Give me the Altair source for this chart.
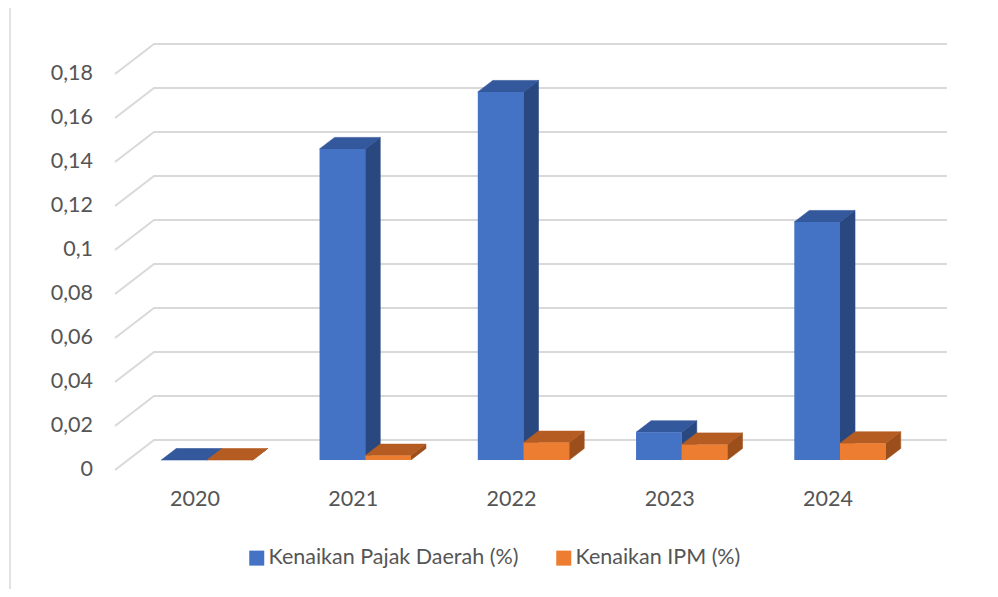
import altair as alt
import pandas as pd

# ---- data ----
categories = ["2020", "2021", "2022", "2023", "2024"]
pajak = [0.0, 0.1414, 0.1673, 0.0126, 0.1082]
ipm = [0.0, 0.0020, 0.0079, 0.0071, 0.0076]
series_names = ["Kenaikan Pajak Daerah (%)", "Kenaikan IPM (%)"]
tick_values = [0.0, 0.02, 0.04, 0.06, 0.08, 0.10, 0.12, 0.14, 0.16, 0.18]
tick_labels = ["0", "0,02", "0,04", "0,06", "0,08", "0,1", "0,12", "0,14", "0,16", "0,18"]

# ---- styling / geometry ----
FRONT_COLORS = ["#4472C4", "#ED7D31"]
TOP_COLORS = ["#34589C", "#B45C22"]
SIDE_COLORS = ["#2A4880", "#9D4F1B"]
GRID = "#D9D9D9"
TEXT = "#555555"
FONT = "Lato"
FS = 21.5

W, H = 982, 581
PX_CAT = 158.25        # pixels per category step
PX_VAL = 2200.0        # pixels per unit of value
ORIGIN_X = 207 - 8     # chart x of category 0 boundary (bar front plane)
BASE_Y = 460 - 8       # chart y of value 0 (bar front plane)

XA = -ORIGIN_X / PX_CAT
XB = XA + W / PX_CAT
YB = BASE_Y / PX_VAL
YA = YB - H / PX_VAL

def px2x(px):  # page px -> data x
    return (px - 207) / PX_CAT

BAR_W = 45.7 / PX_CAT
DX = 15 / PX_CAT
DY = 11.5 / PX_VAL
GRID_FRONT_X = px2x(115)
GRID_BACK_X = px2x(154)
GRID_RIGHT_X = px2x(947)
FRONT_DY = -10 / PX_VAL
BACK_DY = 20 / PX_VAL

xs = alt.Scale(domain=[XA, XB], nice=False, zero=False)
ys = alt.Scale(domain=[YA, YB], nice=False, zero=False)

# gridlines (perspective)
g_rows = []
for v in tick_values:
    g_rows.append({"v": v, "k": 0, "x": GRID_FRONT_X, "y": v + FRONT_DY})
    g_rows.append({"v": v, "k": 1, "x": GRID_BACK_X, "y": v + BACK_DY})
    g_rows.append({"v": v, "k": 2, "x": GRID_RIGHT_X, "y": v + BACK_DY})
grid = alt.Chart(pd.DataFrame(g_rows)).mark_line(color=GRID, strokeWidth=2).encode(
    x=alt.X("x:Q", scale=xs, axis=None),
    y=alt.Y("y:Q", scale=ys, axis=None),
    detail="v:N",
    order="k:Q",
)

front_rows, side_rows, top_rows = [], [], []
for i, cat in enumerate(categories):
    for s, vals in enumerate([pajak, ipm]):
        v = vals[i]
        x0 = i - BAR_W + s * BAR_W
        x1 = x0 + BAR_W
        fid = f"{cat}-{s}"
        front_rows.append({"series": series_names[s], "x": x0, "x2": x1, "y": 0.0, "y2": v, "o": i * 2 + s})
        side_rows.append({"id": fid, "x": x1, "y": 0.0, "y2": v, "fill": SIDE_COLORS[s]})
        side_rows.append({"id": fid, "x": x1 + DX, "y": DY, "y2": v + DY, "fill": SIDE_COLORS[s]})
        top_rows.append({"id": fid, "y": v, "x": x0, "x2": x1, "fill": TOP_COLORS[s]})
        top_rows.append({"id": fid, "y": v + DY, "x": x0 + DX, "x2": x1 + DX, "fill": TOP_COLORS[s]})

sides = alt.Chart(pd.DataFrame(side_rows)).mark_area(orient="vertical", strokeWidth=0.6).encode(
    x=alt.X("x:Q", scale=xs, axis=None),
    y=alt.Y("y:Q", scale=ys, axis=None, stack=None),
    y2="y2:Q",
    detail="id:N",
    fill=alt.Fill("fill:N", scale=None),
    stroke=alt.Stroke("fill:N", scale=None),
)

tops = alt.Chart(pd.DataFrame(top_rows)).mark_area(orient="horizontal", strokeWidth=0.6).encode(
    y=alt.Y("y:Q", scale=ys, axis=None),
    x=alt.X("x:Q", scale=xs, axis=None, stack=None),
    x2="x2:Q",
    detail="id:N",
    fill=alt.Fill("fill:N", scale=None),
    stroke=alt.Stroke("fill:N", scale=None),
)

fronts = alt.Chart(pd.DataFrame(front_rows)).mark_rect().encode(
    x=alt.X("x:Q", scale=xs, axis=None),
    x2="x2:Q",
    y=alt.Y("y:Q", scale=ys, axis=None),
    y2="y2:Q",
    color=alt.Color(
        "series:N",
        scale=alt.Scale(domain=series_names, range=FRONT_COLORS),
        legend=alt.Legend(
            title=None, orient="none", legendX=238, legendY=539, direction="horizontal",
            symbolType="square", symbolSize=225, symbolStrokeWidth=0,
            labelFont=FONT, labelFontSize=FS, labelColor=TEXT, labelOffset=1,
            columnPadding=34, labelLimit=400,
        ),
    ),
)

ylab = alt.Chart(pd.DataFrame({"y": [v + FRONT_DY for v in tick_values], "t": tick_labels,
                               "x": [px2x(93)] * len(tick_values)})).mark_text(
    align="right", baseline="middle", font=FONT, fontSize=FS, color=TEXT
).encode(x=alt.X("x:Q", scale=xs, axis=None), y=alt.Y("y:Q", scale=ys, axis=None), text="t:N")

xlab = alt.Chart(pd.DataFrame({"x": [i - 12 / PX_CAT for i in range(len(categories))],
                               "y": [-40 / PX_VAL] * len(categories), "t": categories})).mark_text(
    align="center", baseline="middle", font=FONT, fontSize=FS, color=TEXT
).encode(x=alt.X("x:Q", scale=xs, axis=None), y=alt.Y("y:Q", scale=ys, axis=None), text="t:N")

border = alt.Chart(pd.DataFrame({"a": [0]})).mark_rule(color=GRID, strokeWidth=1.5).encode(
    x=alt.value(2), y=alt.value(0), y2=alt.value(H)
)

chart = alt.layer(border, grid, sides, tops, fronts, ylab, xlab).properties(
    width=W, height=H, padding=0, autosize=alt.AutoSizeParams(type="none"),
    background="white",
).configure_view(stroke=None)

chart.save("out.html", embed_options={"renderer": "svg", "actions": False})
